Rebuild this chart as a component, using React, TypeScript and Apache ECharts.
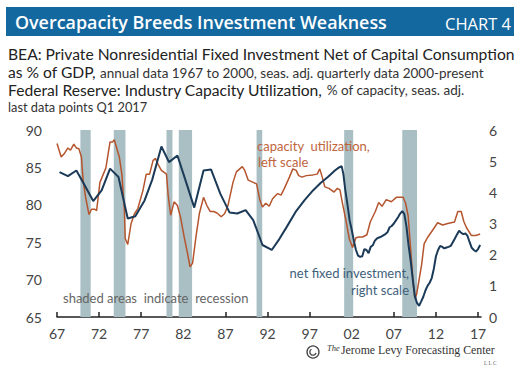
import React, { useEffect, useRef } from 'react';
import * as echarts from 'echarts';

// Capacity utilization (left scale, % of capacity)
const capYears = [
  1967.0, 1967.5, 1967.9, 1968.3, 1968.6, 1969.0, 1969.3, 1969.6, 1969.9, 1970.1,
  1970.4, 1970.8, 1971.1, 1971.5, 1971.7, 1972.1, 1972.5, 1972.8, 1973.3, 1973.6,
  1973.8, 1974.4, 1974.7, 1975.0, 1975.1, 1975.4, 1975.8, 1976.2, 1976.6, 1977.2,
  1977.6, 1978.0, 1978.4, 1978.7, 1979.0, 1979.4, 1980.0, 1980.2, 1980.5, 1980.9,
  1981.3, 1981.7, 1982.1, 1982.5, 1982.8, 1983.1, 1983.5, 1983.9, 1984.4, 1984.8,
  1985.2, 1985.6, 1986.0, 1986.5, 1986.9, 1987.3, 1987.9, 1988.3, 1989.0, 1989.3,
  1989.7, 1990.3, 1990.7, 1991.1, 1991.4, 1991.8, 1992.2, 1992.6, 1993.2, 1993.6,
  1994.0, 1994.6, 1995.0, 1995.4, 1995.7, 1996.1, 1996.6, 1997.4, 1997.9, 1998.2,
  1998.5, 1998.8, 1999.3, 1999.9, 2000.3, 2000.6, 2000.9, 2001.3, 2001.7, 2002.1,
  2002.5, 2002.9, 2003.3, 2003.8, 2004.2, 2004.8, 2005.2, 2005.6, 2006.1, 2006.7,
  2007.3, 2008.1, 2008.4, 2008.7, 2009.0, 2009.3, 2009.5, 2009.7, 2010.0, 2010.3,
  2010.6, 2011.1, 2011.6, 2012.2, 2012.8, 2013.4, 2014.2, 2014.6, 2015.0, 2015.3,
  2015.6, 2016.2, 2016.7, 2017.0, 2017.25,
];
const capValues = [
  88.2, 86.4, 86.9, 87.6, 87.3, 88.1, 87.6, 87.5, 86.4, 83.3,
  81.0, 78.7, 79.4, 79.4, 79.2, 83.0, 84.1, 84.9, 88.4, 88.4,
  88.7, 86.4, 84.1, 79.3, 75.5, 74.7, 77.5, 78.8, 79.5, 81.9,
  84.1, 84.1, 85.9, 86.2, 85.4, 84.6, 84.1, 81.3, 78.6, 80.4,
  79.9, 78.2, 75.7, 73.5, 71.7, 72.2, 75.7, 78.8, 81.0, 79.9,
  79.1, 79.1, 78.9, 78.4, 78.8, 79.9, 83.0, 84.4, 85.1, 84.6,
  83.3, 83.0, 82.8, 80.6, 79.7, 80.2, 79.8, 80.8, 81.5, 81.3,
  82.2, 83.7, 84.8, 84.6, 83.9, 83.7, 83.9, 84.0, 84.1, 84.8,
  83.7, 82.4, 82.2, 81.7, 82.2, 82.0, 80.2, 78.0, 75.5, 74.3,
  75.6, 75.7, 75.7, 76.0, 77.7, 79.1, 80.3, 79.8, 80.7, 80.4,
  81.0, 81.0, 80.2, 78.5, 74.0, 69.5, 67.5, 68.0, 70.0, 72.0,
  74.8, 75.8, 76.6, 77.6, 77.3, 77.5, 77.7, 79.1, 79.1, 77.8,
  77.0, 75.9, 75.9, 76.0, 76.1,
];

// Net fixed investment (right scale, % of GDP)
const invYears = [
  1967.3, 1968.3, 1969.3, 1970.3, 1971.3, 1972.3, 1973.3, 1974.3, 1975.4, 1976.3,
  1977.4, 1978.3, 1979.4, 1980.3, 1981.3, 1982.3, 1983.3, 1984.4, 1985.3, 1986.4,
  1987.5, 1988.4, 1989.4, 1990.3, 1991.4, 1992.5, 1993.4, 1994.3, 1995.4, 1996.4,
  1997.4, 1998.3, 1999.2, 2000.0, 2000.5, 2000.8,
  2001.0, 2001.25, 2001.5, 2001.75, 2002.0, 2002.25, 2002.5, 2002.75, 2003.0, 2003.25,
  2003.5, 2003.75, 2004.0, 2004.25, 2004.5, 2004.75, 2005.0, 2005.25, 2005.5, 2005.75,
  2006.0, 2006.25, 2006.5, 2006.75, 2007.0, 2007.25, 2007.5, 2007.75, 2008.0, 2008.25,
  2008.5, 2008.75, 2009.0, 2009.25, 2009.5, 2009.75, 2010.0, 2010.25, 2010.5, 2010.75,
  2011.0, 2011.25, 2011.5, 2011.75, 2012.0, 2012.25, 2012.5, 2012.75, 2013.0, 2013.25,
  2013.5, 2013.75, 2014.0, 2014.25, 2014.5, 2014.75, 2015.0, 2015.25, 2015.5, 2015.75,
  2016.0, 2016.25, 2016.5, 2016.75, 2017.0, 2017.25,
];
const invValues = [
  4.65, 4.52, 4.70, 4.22, 3.72, 4.06, 4.76, 4.49, 3.16, 3.23,
  3.74, 4.40, 5.47, 4.97, 5.18, 4.35, 3.51, 4.70, 4.73, 3.95,
  3.35, 3.32, 3.43, 3.11, 2.31, 2.15, 2.50, 2.90, 3.40, 3.75,
  4.06, 4.30, 4.50, 4.70, 4.80, 4.84,
  4.60, 4.05, 3.60, 3.10, 2.80, 2.45, 2.15, 1.97, 1.93, 1.95,
  2.18, 2.15, 2.05, 2.25, 2.30, 2.45, 2.52, 2.55, 2.58, 2.62,
  2.66, 2.72, 2.88, 2.92, 3.00, 3.10, 3.20, 3.32, 3.40, 3.30,
  2.90, 2.30, 1.80, 1.20, 0.66, 0.45, 0.36, 0.50, 0.65, 0.85,
  1.00, 1.10, 1.25, 1.55, 1.95, 2.15, 2.28, 2.25, 2.20, 2.23,
  2.25, 2.28, 2.40, 2.52, 2.65, 2.77, 2.70, 2.66, 2.68, 2.60,
  2.40, 2.22, 2.15, 2.10, 2.18, 2.31,
];

const recessionStarts = [1969.78, 1973.74, 1980.0, 1981.46, 1990.7, 2001.1, 2008.0];
const recessionEnds = [1971.0, 1975.13, 1980.71, 1983.04, 1991.37, 2002.17, 2009.75];

const xTicks = [1967, 1972, 1977, 1982, 1987, 1992, 1997, 2002, 2007, 2012, 2017];

const FONT = 'Lato';
const TITLE_FONT = '"Open Sans"';

function measure(text: string, family: string, weight: string, size: number): number {
  const ctx = document.createElement('canvas').getContext('2d');
  if (!ctx) return text.length * size * 0.5;
  ctx.font = `${weight} ${size}px ${family}`;
  return ctx.measureText(text).width;
}
function fitSize(text: string, family: string, weight: string, width: number): number {
  const w = measure(text, family, weight, 100);
  return w > 0 ? (100 * width) / w : 14;
}

export default function App() {
  const ref = useRef<HTMLDivElement>(null);
  useEffect(() => {
    if (!ref.current) return;
    const chart = echarts.init(ref.current, undefined, { renderer: 'svg' });
    const capData = capYears.map((y, i) => [y, capValues[i]]);
    const invData = invYears.map((y, i) => [y, invValues[i]]);
    const areas = recessionStarts.map((s, i) => [{ xAxis: s }, { xAxis: recessionEnds[i] }]);

    const titleText = 'Overcapacity Breeds Investment Weakness';
    const chartText = 'CHART 4';
    const l1 = 'BEA: Private Nonresidential Fixed Investment Net of Capital Consumption';
    const l2a = 'as % of GDP,';
    const l2b = 'annual data 1967 to 2000, seas. adj. quarterly data 2000-present';
    const l3a = 'Federal Reserve: Industry Capacity Utilization,';
    const l3b = '% of capacity, seas. adj.';
    const l4 = 'last data points Q1 2017';

    const titleSize = Math.min(19, fitSize(titleText, TITLE_FONT, '600', 372));
    const chartSize = Math.min(17, fitSize(chartText, TITLE_FONT, '400', 66));
    const bigSize = fitSize(l1, FONT, '400', 507);
    const x2 = 8 + measure(l2a, FONT, '400', bigSize) + 4;
    const x3 = 8 + measure(l3a, FONT, '400', bigSize) + 4;
    const smallSize = Math.min(13.5, fitSize(l2b, FONT, '400', 495 - x2));
    const l4Size = smallSize * 0.95;

    // place text by baseline (middle alignment shifted by ~0.3em)
    const mid = (baseline: number, size: number) => baseline - 0.31 * size;
    const txt = (x: number, baseline: number, text: string, size: number, fill: string) => ({
      type: 'text', x, y: mid(baseline, size), z: 11,
      style: { text, fill, fontFamily: FONT, fontSize: size, textVerticalAlign: 'middle' },
    });

    chart.setOption({
      animation: false,
      backgroundColor: '#ffffff',
      grid: { left: 57, right: 45, top: 130, height: 187, containLabel: false },
      xAxis: {
        type: 'value',
        min: 1967,
        max: 2017.35,
        splitLine: { show: false },
        axisLine: { show: true, lineStyle: { color: '#222', width: 1.5 } },
        axisTick: { show: true, inside: true, length: 5, customValues: xTicks, lineStyle: { color: '#222', width: 1.5 } },
        axisLabel: {
          customValues: xTicks,
          margin: 9,
          fontFamily: FONT,
          fontSize: 14,
          color: '#444',
          formatter: (v: number) => String(Math.round(v) % 100).padStart(2, '0'),
        },
      },
      yAxis: [
        {
          type: 'value', min: 65, max: 90, interval: 5, position: 'left',
          splitLine: { show: false }, axisLine: { show: false }, axisTick: { show: false },
          axisLabel: { margin: 15, fontFamily: FONT, fontSize: 14, color: '#444' },
        },
        {
          type: 'value', min: 0, max: 6, interval: 1, position: 'right',
          splitLine: { show: false }, axisLine: { show: false }, axisTick: { show: false },
          axisLabel: { margin: 8, fontFamily: FONT, fontSize: 14, color: '#444' },
        },
      ],
      series: [
        {
          name: 'Capacity utilization', type: 'line', yAxisIndex: 0, data: capData,
          showSymbol: false, symbol: 'none', z: 4,
          lineStyle: { color: '#b5552e', width: 1.5 },
        },
        {
          name: 'Net fixed investment', type: 'line', yAxisIndex: 1, data: invData,
          showSymbol: false, symbol: 'none', z: 5, clip: false,
          lineStyle: { color: '#1b3a57', width: 2 },
          markArea: { silent: true, z: 1, itemStyle: { color: '#a9bfc3', opacity: 1 }, data: areas },
        },
      ],
      graphic: [
        { type: 'rect', shape: { x: 6, y: 7, width: 508, height: 29 }, style: { fill: '#1468a0' }, z: 10 },
        {
          type: 'text', x: 15, y: 22, z: 11,
          style: { text: titleText, fill: '#ffffff', fontFamily: TITLE_FONT, fontWeight: 600, fontSize: titleSize, textVerticalAlign: 'middle' },
        },
        {
          type: 'text', x: 511, y: 23, z: 11,
          style: { text: chartText, fill: '#ffffff', fontFamily: TITLE_FONT, fontSize: chartSize, textAlign: 'right', textVerticalAlign: 'middle' },
        },
        txt(8, 59, l1, bigSize, '#222'),
        txt(8, 77, l2a, bigSize, '#222'),
        txt(x2, 77, l2b, smallSize, '#333'),
        txt(8, 94.5, l3a, bigSize, '#222'),
        txt(x3, 94.5, l3b, smallSize, '#333'),
        txt(8, 111, l4, l4Size, '#333'),
        {
          type: 'text', x: 257, y: 146, z: 20,
          style: { text: 'capacity  utilization,', fill: '#c0643d', fontFamily: FONT, fontSize: 13, textVerticalAlign: 'middle' },
        },
        {
          type: 'text', x: 258, y: 162, z: 20,
          style: { text: 'left scale', fill: '#c0643d', fontFamily: FONT, fontSize: 13, textVerticalAlign: 'middle' },
        },
        {
          type: 'text', x: 409, y: 273, z: 20,
          style: { text: 'net fixed investment,', fill: '#3f5f7c', fontFamily: FONT, fontSize: 13, textAlign: 'right', textVerticalAlign: 'middle' },
        },
        {
          type: 'text', x: 409, y: 290, z: 20,
          style: { text: 'right scale', fill: '#3f5f7c', fontFamily: FONT, fontSize: 13, textAlign: 'right', textVerticalAlign: 'middle' },
        },
        {
          type: 'text', x: 63, y: 298, z: 20,
          style: { text: 'shaded areas  indicate  recession', fill: '#666', fontFamily: FONT, fontSize: 13, textVerticalAlign: 'middle' },
        },
        {
          type: 'circle', z: 20, shape: { cx: 313, cy: 352, r: 6 },
          style: { fill: 'none', stroke: '#444', lineWidth: 1.3 },
        },
        {
          type: 'arc', z: 20, shape: { cx: 313, cy: 352, r: 3.2, startAngle: 0.3, endAngle: 4.2 },
          style: { fill: 'none', stroke: '#444', lineWidth: 1.3 },
        },
        {
          type: 'text', x: 327, y: 348, z: 20,
          style: { text: 'The', fill: '#333', fontFamily: 'Liberation Serif', fontStyle: 'italic', fontSize: 8.5, textVerticalAlign: 'middle' },
        },
        {
          type: 'text', x: 341, y: 350, z: 20,
          style: { text: 'Jerome Levy Forecasting Center', fill: '#333', fontFamily: 'Liberation Serif', fontSize: 11.8, textVerticalAlign: 'middle' },
        },
        {
          type: 'text', x: 484, y: 363, z: 20,
          style: { text: 'L L C', fill: '#666', fontFamily: 'Liberation Serif', fontSize: 5.5, textVerticalAlign: 'middle' },
        },
      ],
    });
    return () => chart.dispose();
  }, []);
  return <div ref={ref} style={{ width: 526, height: 374, position: 'absolute', left: 0, top: 0 }} />;
}
